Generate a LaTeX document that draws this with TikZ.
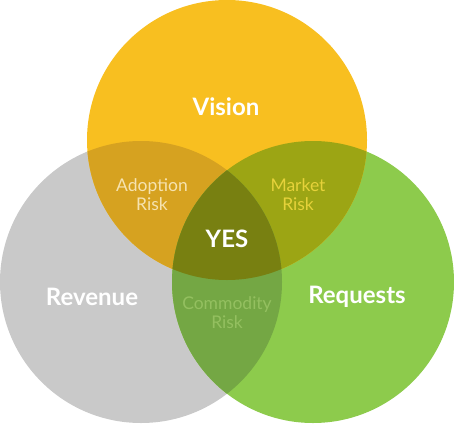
\documentclass[tikz,border=0pt]{standalone}
\usepackage{fontspec}
\setmainfont{Lato}
\definecolor{cVision}{HTML}{F8BF20}
\definecolor{cRevenue}{HTML}{C9C9C9}
\definecolor{cRequests}{HTML}{8DCB4C}
\definecolor{cAdopt}{HTML}{D6A220}
\definecolor{cMarket}{HTML}{9CA514}
\definecolor{cYes}{HTML}{788011}
\definecolor{cComm}{HTML}{74A744}
\definecolor{tAdopt}{HTML}{F6E3B0}
\definecolor{tMarket}{HTML}{E6D23A}
\definecolor{tComm}{HTML}{94C060}
\tikzset{
  big/.style={font=\fontsize{24}{28}\selectfont\bfseries, text=white, inner sep=0pt},
  small/.style={font=\fontsize{17.5}{19}\selectfont, align=center, inner sep=0pt},
}
\begin{document}
\begin{tikzpicture}[x=1pt,y=-1pt]
\useasboundingbox (0,0) rectangle (454,423);
\def\VIS{(227,140) circle[radius=140]}
\def\REV{(141,282) circle[radius=141]}
\def\REQ{(313,282) circle[radius=141]}
\fill[cRevenue] \REV;
\fill[cRequests] \REQ;
\fill[cVision] \VIS;
\begin{scope}\clip \VIS; \fill[cAdopt] \REV; \end{scope}
\begin{scope}\clip \VIS; \fill[cMarket] \REQ; \end{scope}
\begin{scope}\clip \REV; \fill[cComm] \REQ; \end{scope}
\begin{scope}\clip \VIS; \clip \REV; \fill[cYes] \REQ; \end{scope}
\node[big] (vision) at (226,107) {Vision};
\node[big] (revenue) at (92,297) {Revenue};
\node[big] (requests) at (357,297) {Requests};
\node[big] (yes) at (227,239) {YES};
\node[small, text=tAdopt] (adopt) at (152,195) {Adoption\\Risk};
\node[small, text=tMarket] (market) at (298,195) {Market\\Risk};
\node[small, text=tComm] (comm) at (227,313) {Commodity\\Risk};
\end{tikzpicture}
\end{document}
